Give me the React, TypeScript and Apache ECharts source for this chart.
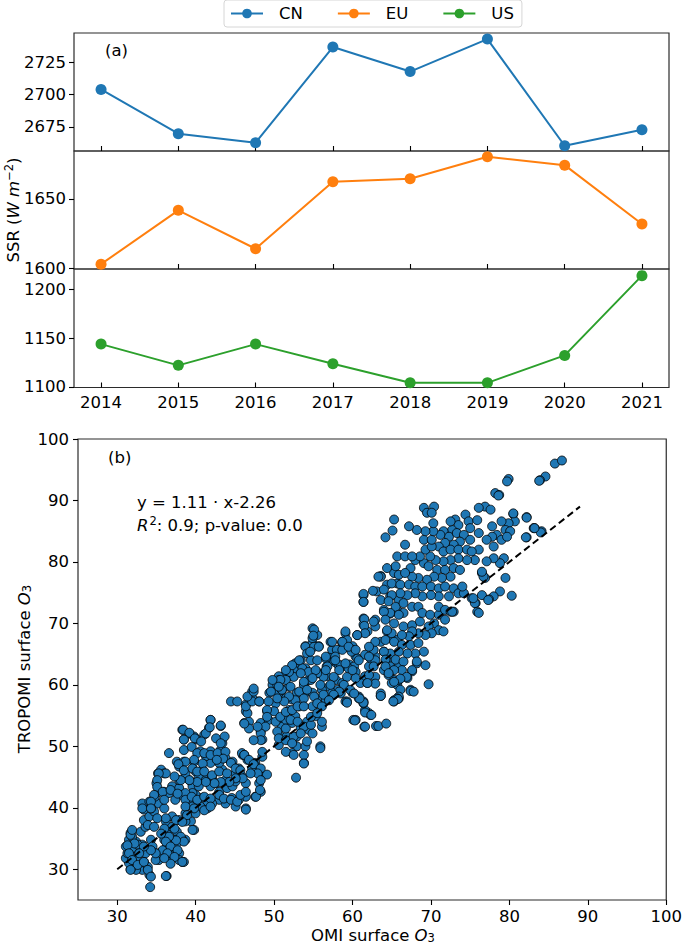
import React, { useEffect, useRef } from "react";
import * as echarts from "echarts";

const years = [2014, 2015, 2016, 2017, 2018, 2019, 2020, 2021];
const cnSSR = [2703.9, 2669.6, 2662.6, 2736.8, 2717.8, 2743.0, 2660.3, 2672.7];
const euSSR = [1602.9, 1641.7, 1614.0, 1662.3, 1664.5, 1680.4, 1674.3, 1631.9];
const usSSR = [1143.8, 1122.0, 1143.8, 1123.6, 1104.1, 1104.1, 1132.2, 1214.0];
const cnTicks = [2675, 2700, 2725];
const euTicks = [1600, 1650];
const usTicks = [1100, 1150, 1200];
const o3Ticks = [30, 40, 50, 60, 70, 80, 90, 100];
const fitLine = [[30, 30], [89, 89]];

// OMI surface O3 (x), TROPOMI surface O3 (y)
const scatterPoints: number[][] = [
  [34.2,27.1],[36.3,28.9],[34.1,29.1],[33.2,29.9],[32.4,29.9],[31.7,30.0],[31.5,31.0],[31.1,31.8],[31.3,32.6],[31.9,32.1],[32.6,31.5],[33.4,31.2],[33.9,30.4],[32.8,33.1],[33.2,34.0],[31.9,33.4],[31.7,35.9],[31.5,34.8],[32.4,34.5],[34.3,34.8],[34.5,33.7],[35.3,31.5],[35.3,32.6],[36.0,34.8],[36.4,36.1],[36.2,37.8],[37.0,36.9],[37.6,36.1],[37.4,34.8],[36.8,33.7],[37.4,33.1],[37.9,32.6],[38.3,31.2],[37.0,31.8],[36.6,32.6],[34.9,31.5],[33.6,32.6],[33.0,36.1],[33.6,36.9],[33.4,38.0],[34.1,38.6],[34.7,39.4],[33.4,39.7],[33.2,40.7],[34.1,41.0],[34.3,39.9],[35.3,40.7],[36.0,39.9],[34.8,41.8],[35.4,42.6],[36.0,42.6],[35.0,44.0],[35.2,45.6],[35.6,46.2],[36.0,45.6],[36.6,48.9],[37.0,43.5],[37.9,43.2],[38.1,42.1],[37.0,38.6],[37.9,38.0],[38.7,39.1],[39.4,37.8],[39.8,36.4],[38.7,34.8],[38.3,34.8],[37.6,34.2],[36.2,33.4],[35.8,33.1],[32.6,34.0],[31.9,35.3],[31.1,33.7],[37.9,31.5],[38.5,31.2],
  [38.3,52.7],[38.5,51.1],[39.2,52.1],[39.8,51.6],[40.2,51.1],[41.1,51.9],[41.9,54.3],[41.7,53.0],[43.2,53.3],[42.6,51.3],[43.4,50.5],[43.2,49.4],[42.8,48.6],[43.8,48.1],[44.7,47.5],[46.0,48.6],[46.6,47.8],[45.5,46.4],[45.1,45.6],[45.9,45.1],[46.4,44.0],[47.2,46.4],[47.6,47.3],[48.3,45.4],[49.1,45.4],[48.1,44.0],[48.3,42.6],[47.6,41.8],[46.4,41.8],[46.4,39.9],[45.1,40.2],[45.5,41.3],[44.6,41.6],[43.8,40.7],[43.0,41.3],[42.1,40.7],[41.5,39.9],[41.5,41.0],[40.6,41.6],[40.0,42.1],[39.6,43.5],[39.2,44.5],[38.7,45.6],[37.9,46.7],[37.6,47.5],[38.5,47.5],[39.8,47.5],[40.0,45.9],[40.4,45.1],[40.9,46.2],[41.3,44.5],[42.1,45.1],[41.9,43.5],[42.6,44.0],[43.0,42.6],[43.8,44.5],[44.0,43.2],[44.7,43.5],[45.1,44.3],[43.4,46.2],[43.0,47.3],[41.9,47.3],[41.3,48.4],[40.6,49.2],[41.9,49.2],[40.4,43.5],[39.6,42.4],[40.6,40.2],[40.0,39.1],[39.2,40.7],[38.7,42.4],[37.9,44.5],[36.6,42.4],[37.4,41.3],[38.7,37.8],[39.6,40.2],
  [44.5,57.3],[45.3,57.3],[46.4,56.8],[46.4,55.7],[47.2,58.9],[47.4,57.6],[48.1,57.3],[46.2,53.8],[46.8,54.0],[48.3,53.8],[48.3,52.4],[48.5,51.1],[49.1,55.7],[49.3,54.3],[45.9,48.9],[49.4,58.7],[49.8,60.0],[50.6,60.3],[50.6,58.7],[50.2,57.0],[50.0,55.7],[50.6,54.3],[51.0,53.2],[51.5,54.3],[50.8,51.6],[50.6,50.2],[51.6,51.6],[52.3,51.1],[52.9,51.6],[52.9,50.0],[52.3,48.9],[54.0,50.0],[54.4,52.7],[54.2,50.8],[54.9,52.1],[53.4,53.0],[52.8,44.9],[53.8,47.3],[52.3,53.8],[51.9,55.9],[52.7,54.9],[53.2,56.5],[52.3,57.6],[51.5,57.8],[51.0,59.2],[51.9,59.7],[52.9,58.7],[53.8,60.0],[54.4,60.8],[54.0,58.7],[54.9,58.7],[54.9,61.9],[54.0,62.7],[52.7,63.0],[52.3,61.4],[51.5,61.7],[50.6,61.4],
  [54.0,66.3],[54.9,66.8],[55.7,66.3],[57.4,65.7],[58.7,66.8],[60.0,66.3],[60.4,64.6],[59.6,63.3],[58.7,63.0],[57.9,63.6],[57.1,64.4],[56.7,63.0],[55.7,61.9],[56.7,61.4],[57.9,60.8],[58.7,60.3],[58.1,59.2],[57.0,59.7],[56.1,59.2],[55.5,57.8],[56.6,57.6],[57.4,58.7],[59.1,57.3],[60.0,58.7],[60.8,58.1],[61.4,57.3],[62.1,55.4],[61.6,55.9],[60.1,54.3],[61.5,53.2],[63.0,53.3],[55.9,50.0],[54.9,56.5],[54.2,54.0],[55.3,54.9],[56.1,53.2],[61.6,61.4],[62.1,63.0],[62.9,64.6],[61.0,60.3],[61.6,64.9],
  [63.6,77.7],[65.3,78.2],[64.4,76.3],[65.7,76.5],[61.4,74.6],[61.4,73.5],[63.1,75.2],[63.6,73.8],[64.8,74.4],[65.9,73.8],[64.0,72.2],[64.8,71.6],[65.9,71.9],[61.4,70.8],[61.4,69.8],[62.9,70.6],[62.9,69.5],[61.9,68.7],[64.4,68.7],[65.0,67.6],[65.7,67.3],[63.6,67.0],[62.7,65.7],[64.0,65.4],[62.3,64.3],[62.9,64.0],[64.4,64.0],[64.8,63.0],[65.9,63.0],[64.0,62.4],[62.9,61.3],[61.9,60.3],[63.6,58.2],[65.3,60.8],[65.7,60.0],[65.3,57.3],[65.9,57.8],[62.3,55.1],[63.3,53.3],[64.3,53.7],[61.6,53.2],[60.4,54.3],[59.1,68.4],[58.7,67.0],[59.3,67.3],[60.6,68.1],[60.0,65.7],[60.6,64.3],[60.2,63.0],[60.4,62.1],[59.3,61.3],[58.9,60.0],[59.7,59.2],[59.3,57.3],[60.8,57.8],[61.4,57.0],[58.5,58.6],[58.0,65.7],[57.6,64.0],[58.3,63.0],[57.2,67.0],[56.6,64.3],[56.8,63.0],[57.6,61.3],[56.3,61.3],[55.9,60.0],[57.2,60.0],[56.3,58.4],[55.1,58.1],[55.5,57.0],[56.1,56.5],[54.9,69.2],[55.5,68.1],[54.9,67.6],[54.0,66.2],[55.1,66.2],[54.2,65.1],[54.7,64.0],[55.5,64.0],[53.4,64.0],[52.7,63.5],[53.6,62.7],[52.5,62.4],[54.4,62.1],[55.5,61.9],[54.7,60.8],[53.8,60.5],[52.5,61.3],[51.9,62.1],[51.5,60.8],[50.6,60.8],[50.4,60.0],[51.0,59.2],[52.1,59.7],[53.2,58.9],[54.2,59.2],[53.8,57.8],[52.7,57.5],[51.9,58.1],[51.3,57.3],[50.4,57.8],[49.6,58.9],[49.3,57.3],[49.1,55.9],[49.1,54.8],[50.2,54.0],[50.8,54.8],[51.5,55.6],[52.3,55.9],[53.0,56.5],[53.8,56.5],[52.1,54.3],[53.0,54.0],[53.8,53.2],[54.7,53.5],[54.7,54.8],[55.5,55.4],[56.1,54.0],[51.5,52.9],[50.4,52.4],[50.6,51.3],[51.5,51.0],[52.5,51.6],[53.4,52.1],[52.3,50.5],[51.5,49.1],[52.5,48.6],[53.8,48.6],[53.8,47.2],[55.9,49.7],[48.9,53.2],[48.3,52.1],[48.3,51.0],[47.4,51.0],[47.9,53.2],[46.8,52.9],[46.2,53.7],[46.6,55.4],[46.4,56.5],[47.2,57.3],[48.1,57.3],[46.6,58.1],[47.4,58.9],[46.2,48.6],[47.4,47.2],[48.5,48.3],[48.5,49.1],
  [85.8,96.0],[84.6,93.9],[83.9,93.3],[79.9,93.5],[79.7,93.1],[78.2,91.2],[78.7,90.9],[82.2,87.3],[80.5,87.8],[80.7,86.6],[79.9,86.3],[79.5,85.2],[80.1,85.0],[79.0,86.6],[83.1,85.5],[84.1,85.0],[82.2,84.0],[77.8,85.8],[78.4,84.4],[77.8,84.1],[77.1,83.6],[78.0,82.5],[79.0,83.6],[79.7,84.1],[79.3,80.6],[78.8,79.8],[78.0,80.6],[77.1,80.1],[79.5,77.4],[80.3,74.5],[78.8,75.2],[78.0,74.4],[77.4,73.9],[76.5,74.6],[76.5,78.2],[76.9,77.4],[76.1,82.0],[76.1,84.7],[76.9,89.0],[76.1,88.8],[77.6,88.5],[74.4,87.7],[74.8,86.6],[75.9,86.8],[73.1,86.9],[73.5,86.0],[72.7,85.2],[71.6,85.0],[72.3,84.1],[73.3,84.7],[74.2,84.4],[75.0,83.6],[73.7,83.3],[72.9,82.8],[71.8,83.1],[71.0,82.5],[71.6,81.7],[72.5,82.0],[73.5,82.0],[74.6,82.0],[75.2,81.7],[75.6,80.3],[74.6,80.3],[73.5,80.6],[72.5,80.3],[71.6,80.1],[70.6,80.3],[69.9,80.9],[69.1,79.8],[69.7,79.3],[70.8,78.7],[71.8,78.7],[72.9,79.0],[73.7,78.7],[72.5,77.6],[71.4,77.4],[70.4,77.6],[69.5,77.1],[68.4,77.4],[67.6,77.6],[67.4,79.0],[68.0,80.3],[68.6,80.9],[69.3,82.0],[70.1,82.5],[69.1,83.6],[70.1,83.6],[71.2,84.4],[70.3,85.0],[69.3,85.0],[68.2,85.2],[70.3,86.3],[69.1,88.8],[70.4,89.0],[69.5,88.0],[70.1,88.0],[67.2,85.8],[65.3,86.9],[65.1,85.1],[64.2,84.0],[66.7,82.8],[65.7,80.9],[66.7,80.9],[67.6,80.9],[65.5,79.3],[64.4,79.0],[65.9,77.9],[66.7,78.2],[65.0,76.5],[66.1,76.3],[67.2,76.3],[68.0,76.0],[68.9,76.0],[70.0,76.0],[71.0,75.7],[71.8,76.0],[72.9,75.7],[72.3,74.4],[71.0,74.4],[70.0,74.6],[68.9,74.4],[68.0,74.9],[67.0,74.6],[66.1,74.9],[65.0,74.6],[64.0,75.5],[63.6,77.6],[64.6,73.6],[65.5,72.7],[66.5,73.3],[67.6,72.7],[68.4,72.7],[66.5,71.7],[65.9,71.4],[64.8,71.7],[64.0,71.9],[64.2,70.6],[65.3,70.0],[66.5,69.5],[67.6,69.7],[68.6,70.3],[68.9,71.7],[69.9,71.4],[71.0,71.4],[70.4,70.0],[69.7,69.5],[71.0,68.9],[71.6,68.7],[70.1,68.4],[69.3,68.1],[68.4,68.4],[67.6,68.7],[67.2,67.9],[66.3,68.1],[65.0,68.4],[64.2,67.3],[65.3,67.0],[66.3,66.5],[67.4,66.5],[68.4,66.8],[69.1,65.4],[68.0,65.1],[67.0,65.1],[65.9,65.4],[64.8,65.1],[64.0,65.4],[64.2,64.1],[65.5,64.1],[66.5,63.8],[68.2,63.5],[67.6,62.2],[66.3,62.4],[65.3,62.4],[64.2,63.0],[64.6,61.6],[65.9,60.8],[67.0,61.1],[65.0,60.3],[66.1,59.2],[67.4,59.2],[69.7,60.1],[65.9,58.1],[71.0,72.7],[71.8,72.2],[72.5,71.9],[72.9,71.9],[73.5,74.9],[74.2,74.9],[75.2,74.1],[75.7,73.3],[75.9,71.9],[71.8,70.6],[75.0,85.5],[72.5,86.6],
  [86.7,96.5],[83.8,93.2],[78.6,90.8],[80.5,87.9],[83.2,85.5],[84.0,84.8],[82.1,84.0],[77.3,73.8],[76.1,71.7],[75.6,73.3],[75.4,74.1],[76.7,77.6],[76.5,78.4],[74.0,76.0],[72.7,71.9],[62.9,67.0],[64.4,68.9],[63.6,58.6],[65.3,57.5],[65.7,57.8],[69.3,63.2],[68.2,63.8],[67.6,62.4],[66.9,61.3],[66.1,61.0],[64.6,61.9],[62.9,60.2],[62.1,61.6],[60.4,61.1],[59.5,62.7],[58.5,63.2],[57.8,64.6],[58.7,65.7],[59.9,65.4],
  [67.4,59.0],[67.8,58.9],[63.6,58.2],[65.8,57.7],[65.2,57.3],[61.4,57.1],[60.9,57.8],[60.2,58.6],[59.3,57.1],[61.6,55.5],[62.4,55.1],[60.3,54.2],[58.3,58.9],[57.6,58.4],[57.0,57.5],[61.9,60.3],[65.3,60.5],
  [61.4,74.8],[61.4,73.5],[62.6,75.3],[63.3,77.6],[61.5,70.7],[61.5,69.6],[62.7,70.3],[61.6,68.4],[60.6,68.1],[59.1,68.7],[58.7,67.0],[57.4,67.0],[55.1,69.0],[55.0,68.0],[54.6,65.4],[55.7,66.2],[56.6,64.6],[57.8,64.0],[59.5,66.2],[60.4,65.7],[60.8,64.0],[60.0,62.4],[59.1,63.5],[58.3,62.4],[56.6,62.4],[55.3,62.4],[53.2,64.0],[52.3,63.2],[53.4,61.9],[54.9,61.1],[51.5,62.4],[50.8,60.8],[49.8,60.8],[50.6,59.7],[47.4,59.4],[62.1,66.2],[62.1,64.6],[62.7,63.0],
  [41.9,54.3],[43.2,53.4],[38.4,52.7],[39.2,52.2],[39.9,51.3],[40.7,50.8],[41.3,52.1],[41.8,53.1],[43.7,51.6],[43.2,50.5],[38.5,51.1],[38.5,49.4],[39.5,49.9],[40.2,48.9],[41.1,48.9],[41.9,48.6],[42.8,48.9],[43.8,49.1],[43.5,48.0],[42.7,47.8],[40.9,47.2],[39.8,47.8],[38.7,47.5],[37.8,47.1],[38.5,46.1],[39.6,46.4],[40.2,45.9],[41.1,45.9],[42.1,45.3],[43.0,45.9],[44.0,45.6],[44.5,47.3],[45.1,46.4],[45.7,46.1],[46.2,48.6],[46.8,47.8],[47.4,47.1],[48.3,46.4],[47.9,45.6],[47.0,45.6],[46.0,44.8],[45.1,44.8],[44.3,44.2],[43.2,44.2],[42.4,44.0],[41.3,44.2],[40.2,44.2],[39.2,44.5],[38.1,44.5],[37.3,45.1],[36.2,45.6],[35.3,45.6],[35.1,44.5],[35.1,43.4],[35.8,42.6],[34.7,42.1],[34.3,41.0],[33.2,39.9],[34.3,39.9],[36.0,41.3],[36.8,42.9],[37.7,42.3],[38.7,41.3],[39.5,41.8],[40.2,41.3],[41.1,41.8],[41.9,41.5],[43.0,42.1],[43.6,41.5],[44.5,41.3],[45.3,41.0],[46.4,39.7],[45.7,42.1],[46.4,42.6],[47.7,41.8],[48.2,42.9],[48.3,44.5],[38.7,40.2],[39.8,39.9],[41.1,39.6],[41.9,40.2],[38.9,38.8],[37.5,38.0],[36.2,38.3],[35.1,38.3],[33.9,37.2],[34.7,36.9],[36.0,36.6],[37.3,36.6],[38.3,37.7],[39.6,36.4],[38.1,35.3],[38.5,34.5],[37.5,34.7],[36.6,35.3],[35.6,35.8],[36.2,34.5],[36.8,33.7],[36.4,32.6],[37.7,33.1],[37.3,32.0],[38.3,31.2],[36.8,30.9],[36.0,31.8],[34.9,32.6],[34.3,33.1],[33.4,33.7],[32.8,32.6],[32.2,34.2],[31.7,35.6],[31.9,36.4],[31.3,33.9],[31.5,32.6],[31.9,31.5],[32.6,30.7],[33.4,31.2],[31.7,29.9],[33.9,29.9],[34.3,28.8],[36.2,28.9],
  [82.2,87.2],[83.2,85.5]
];

const FONT = "DejaVu Sans";
const FS = 16.5;
const BLUE = "#1f77b4";
const ORANGE = "#ff7f0e";
const GREEN = "#2ca02c";

const plainFmt = (v: number) => String(v);

export default function App() {
  const ref = useRef<HTMLDivElement>(null);
  useEffect(() => {
    document.body.style.margin = "0";
    if (!ref.current) return;
    const chart = echarts.init(ref.current, undefined, { renderer: "svg" });

    const gridBase = { show: true, borderColor: "#2b2b2b", borderWidth: 1.2, backgroundColor: "transparent", containLabel: false };
    const labelStyle = { color: "#000", fontSize: FS, fontFamily: FONT, formatter: plainFmt };
    const tickStyle = { lineStyle: { color: "#000", width: 1.1 } };

    const topX = (gi: number, showLabel: boolean) => ({
      type: "value", gridIndex: gi, min: 2013.65, max: 2021.35,
      axisLine: { show: false }, splitLine: { show: false },
      axisTick: { show: true, inside: true, length: 5, customValues: years, ...tickStyle },
      axisLabel: showLabel ? { show: true, customValues: years, margin: 6, ...labelStyle } : { show: false },
    });
    const topY = (gi: number, min: number, max: number, ticks: number[]) => ({
      type: "value", gridIndex: gi, min, max,
      axisLine: { show: false }, splitLine: { show: false },
      axisTick: { show: true, inside: false, length: 5, customValues: ticks, ...tickStyle },
      axisLabel: { show: true, customValues: ticks, margin: 8, ...labelStyle },
    });

    const lineSeries = (name: string, color: string, vals: number[], idx: number) => ({
      name, type: "line", xAxisIndex: idx, yAxisIndex: idx,
      data: years.map((y, i) => [y, vals[i]]),
      symbol: "circle", symbolSize: 11,
      lineStyle: { color, width: 2 }, itemStyle: { color },
      z: 3,
    });

    chart.setOption({
      animation: false,
      legend: {
        data: ["CN", "EU", "US"],
        top: 0, left: 224,
        itemWidth: 32, itemHeight: 12, itemGap: 34,
        padding: [5, 8, 5, 6],
        borderColor: "#d6d6d6", borderWidth: 1, borderRadius: 3,
        backgroundColor: "#fff",
        textStyle: { color: "#000", fontSize: FS, fontFamily: FONT, padding: [0, 0, 0, 11] },
      },
      grid: [
        { ...gridBase, left: 74, right: 16, top: 33, height: 118 },
        { ...gridBase, left: 74, right: 16, top: 151, height: 118 },
        { ...gridBase, left: 74, right: 16, top: 269, height: 118.5 },
        { ...gridBase, left: 78, right: 17, top: 439, height: 461 },
      ],
      xAxis: [
        topX(0, false),
        topX(1, false),
        topX(2, true),
        {
          type: "value", gridIndex: 3, min: 25, max: 100,
          axisLine: { show: false }, splitLine: { show: false },
          axisTick: { show: true, inside: false, length: 5, customValues: o3Ticks, ...tickStyle },
          axisLabel: { show: true, customValues: o3Ticks, margin: 8, ...labelStyle },
        },
      ],
      yAxis: [
        topY(0, 2656.2, 2747.7, cnTicks),
        topY(1, 1599.4, 1684.5, euTicks),
        topY(2, 1099.3, 1220.8, usTicks),
        {
          type: "value", gridIndex: 3, min: 25, max: 100,
          axisLine: { show: false }, splitLine: { show: false },
          axisTick: { show: true, inside: false, length: 5, customValues: o3Ticks, ...tickStyle },
          axisLabel: { show: true, customValues: o3Ticks, margin: 9, ...labelStyle },
        },
      ],
      series: [
        lineSeries("CN", BLUE, cnSSR, 0),
        lineSeries("EU", ORANGE, euSSR, 1),
        lineSeries("US", GREEN, usSSR, 2),
        {
          name: "O3", type: "scatter", xAxisIndex: 3, yAxisIndex: 3,
          data: scatterPoints, symbol: "circle", symbolSize: 9,
          itemStyle: { color: BLUE, borderColor: "#000", borderWidth: 0.8, opacity: 1 },
          z: 3,
        },
        {
          name: "fit", type: "line", xAxisIndex: 3, yAxisIndex: 3,
          data: fitLine, symbol: "none",
          lineStyle: { color: "#000", width: 2, type: [7, 4] },
          z: 4,
        },
      ],
      graphic: [
        { type: "text", x: 105, y: 50, style: { text: "(a)", fontSize: FS, fontFamily: FONT, fill: "#000", textAlign: "left", textVerticalAlign: "middle" } },
        { type: "text", x: 108, y: 457, style: { text: "(b)", fontSize: FS, fontFamily: FONT, fill: "#000", textAlign: "left", textVerticalAlign: "middle" } },
        { type: "text", x: 137, y: 502, style: { text: "y = 1.11 · x-2.26", fontSize: FS, fontFamily: FONT, fill: "#000", textAlign: "left", textVerticalAlign: "middle" } },
        {
          type: "text", x: 137, y: 525,
          style: {
            text: "{i|R}{sup|2}{n|: 0.9; p-value: 0.0}",
            rich: {
              i: { fontStyle: "italic", fontSize: FS, fontFamily: FONT, color: "#000" },
              sup: { fontSize: 11.5, fontFamily: FONT, color: "#000", padding: [0, 0, 9, 1] },
              n: { fontSize: FS, fontFamily: FONT, color: "#000" },
            },
            fontSize: FS, fontFamily: FONT, fill: "#000", textAlign: "left", textVerticalAlign: "middle",
          },
        },
        {
          type: "text", x: 13, y: 210, rotation: Math.PI / 2,
          style: {
            text: "{n|SSR (}{i|W}{n| }{i|m}{sup|−2}{n|)}",
            rich: {
              n: { fontSize: FS, fontFamily: FONT, color: "#000" },
              i: { fontStyle: "italic", fontSize: FS, fontFamily: FONT, color: "#000" },
              sup: { fontSize: 11.5, fontFamily: FONT, color: "#000", padding: [0, 0, 9, 0] },
            },
            fontSize: FS, fontFamily: FONT, fill: "#000", textAlign: "center", textVerticalAlign: "middle",
          },
        },
        {
          type: "text", x: 24, y: 669, rotation: Math.PI / 2,
          style: {
            text: "{n|TROPOMI surface }{i|O}{sub|3}",
            rich: {
              n: { fontSize: FS, fontFamily: FONT, color: "#000" },
              i: { fontStyle: "italic", fontSize: FS, fontFamily: FONT, color: "#000" },
              sub: { fontSize: 11.5, fontFamily: FONT, color: "#000", padding: [6, 0, 0, 0] },
            },
            fontSize: FS, fontFamily: FONT, fill: "#000", textAlign: "center", textVerticalAlign: "middle",
          },
        },
        {
          type: "text", x: 373, y: 935,
          style: {
            text: "{n|OMI surface }{i|O}{sub|3}",
            rich: {
              n: { fontSize: FS, fontFamily: FONT, color: "#000" },
              i: { fontStyle: "italic", fontSize: FS, fontFamily: FONT, color: "#000" },
              sub: { fontSize: 11.5, fontFamily: FONT, color: "#000", padding: [5, 0, 0, 0] },
            },
            fontSize: FS, fontFamily: FONT, fill: "#000", textAlign: "center", textVerticalAlign: "middle",
          },
        },
      ],
    });
    return () => chart.dispose();
  }, []);
  return <div ref={ref} style={{ width: 685, height: 944 }} />;
}
